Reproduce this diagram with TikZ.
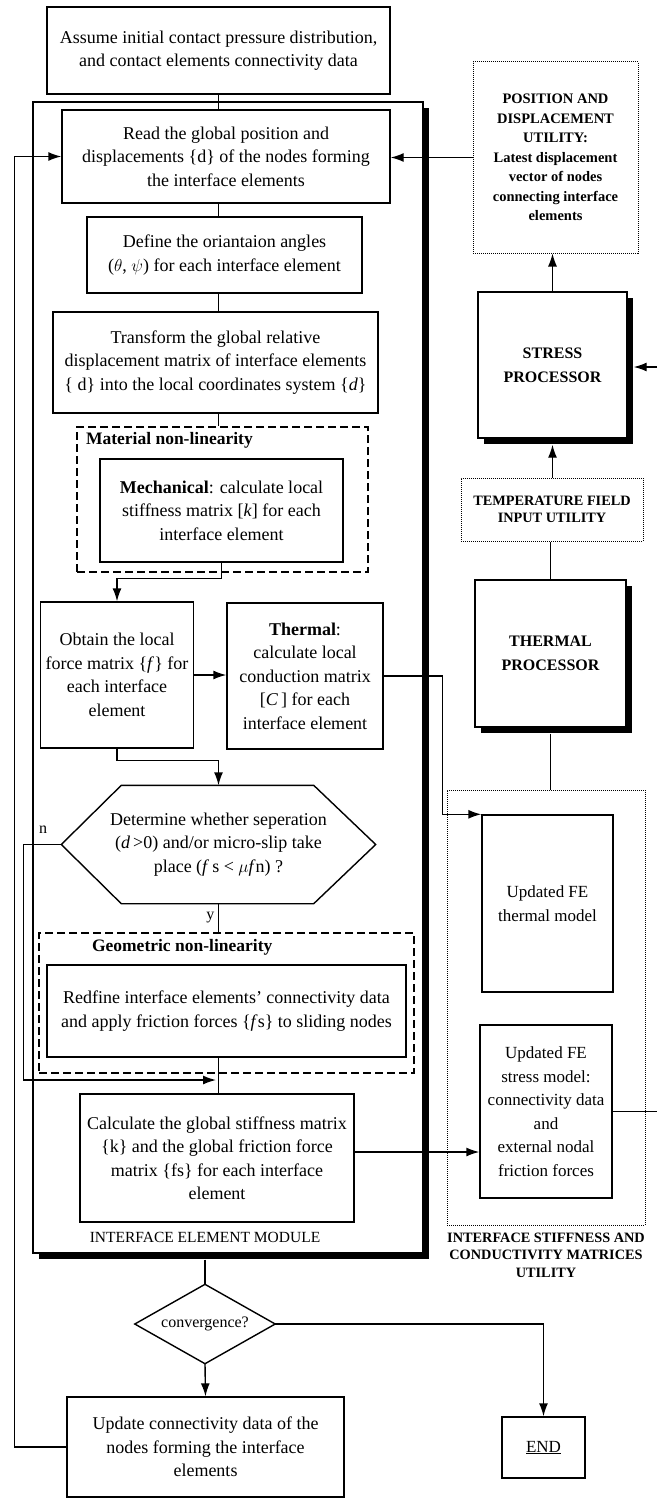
\documentclass[tikz,border=0pt]{standalone}
\usepackage{fontspec}
\setmainfont{Liberation Serif}
\usetikzlibrary{arrows.meta,positioning,shadows}

\newcommand{\boxfont}{\fontsize{18}{23.5}\selectfont}
\newcommand{\capfont}{\fontsize{14.3}{17.5}\selectfont\bfseries}

\tikzset{
  blk/.style={draw, fill=white, align=center, inner sep=2pt, font=\boxfont},
  procbox/.style={blk, font=\fontsize{16}{24}\selectfont\bfseries, drop shadow={shadow xshift=6pt, shadow yshift=-6pt, fill=black, opacity=1}},
  utilbox/.style={draw, line width=1pt, dash pattern=on 1pt off 1pt, fill=white, align=center, font=\capfont},
  groupbox/.style={draw, dash pattern=on 8pt off 4pt},
  grouplbl/.style={anchor=west, font=\fontsize{17.5}{20}\selectfont\bfseries},
  arr/.style={-{Latex[length=13pt,width=9pt]}},
}

\begin{document}
\begin{tikzpicture}[x=1pt, y=-1pt, line width=1.4pt]
\useasboundingbox (0,0) rectangle (657,1498);

\node[blk, minimum width=390pt, minimum height=1151pt, drop shadow={shadow xshift=6pt, shadow yshift=-6pt, fill=black, opacity=1}] (module) at (228,677.5) {};
\node[font=\fontsize{15.5}{18}\selectfont] (modlbl) at (205,1237) {INTERFACE ELEMENT MODULE};

\node[blk, minimum width=343pt, minimum height=87pt] (assume) at (218.5,50.5) {Assume initial contact pressure distribution,\\ and contact elements connectivity data};
\node[blk, minimum width=328pt, minimum height=93pt] (read) at (226,156.5) {Read the global position and\\ displacements \{d\} of the nodes forming\\ the interface elements};
\node[blk, minimum width=275pt, minimum height=76pt] (define) at (224.5,255) {Define the oriantaion angles\\ ($\theta$, $\psi$) for each interface element};
\node[blk, minimum width=325pt, minimum height=101pt] (trans) at (215.5,362.5) {Transform the global relative\\ displacement matrix of interface elements\\ \{ d\} into the local coordinates system \{\textit{d}\}};

\node[groupbox, minimum width=291pt, minimum height=145pt] (matdash) at (222.5,499.5) {};
\node[grouplbl] (matlbl) at (82,440) {Material non-linearity};
\node[blk, minimum width=243pt, minimum height=103pt] (mech) at (221.5,510.5) {\textbf{Mechanical}: calculate local\\ stiffness matrix [\textit{k}] for each\\ interface element};

\node[blk, minimum width=153pt, minimum height=146pt] (obtain) at (117,675) {Obtain the local\\ force matrix \{\textit{f}\} for\\ each interface\\ element};
\node[blk, minimum width=156pt, minimum height=146pt] (thermal) at (305,676) {\textbf{Thermal}:\\ calculate local\\ conduction matrix\\ {[}\textit{C}\,] for each\\ interface element};

\node[align=center, font=\boxfont, minimum width=313pt, minimum height=117pt] (det) at (218.5,844.5) {Determine whether seperation\\ (\textit{d}\,>0) and/or micro-slip take\\ place (\textit{f}\,s < $\mu$\textit{f}n) ?};
\draw (det.west) -- ([xshift=60pt]det.north west) -- ([xshift=-62pt]det.north east) -- (det.east) -- ([xshift=-62pt]det.south east) -- ([xshift=60pt]det.south west) -- cycle;
\node[font=\fontsize{16}{18}\selectfont] (nlbl) at (43,830) {n};

\node[groupbox, minimum width=375pt, minimum height=140pt] (geomdash) at (226.5,1003) {};
\node[grouplbl] (geomlbl) at (88,947) {Geometric non-linearity};
\node[blk, minimum width=359pt, minimum height=92pt] (redefine) at (226.5,1011) {Redfine interface elements' connectivity data\\ and apply friction forces \{\textit{f}s\} to sliding nodes};

\node[blk, minimum width=274pt, minimum height=128pt] (calc) at (217,1158) {Calculate the global stiffness matrix\\ \{k\} and the global friction force\\ matrix \{fs\} for each interface\\ element};

\node[align=center, font=\fontsize{16}{20}\selectfont, minimum width=139pt, minimum height=78pt] (conv) at (205,1324) {convergence?};
\draw (conv.west) -- (conv.north) -- (conv.east) -- (conv.south) -- cycle;

\node[blk, minimum width=277pt, minimum height=100pt] (update) at (205.5,1447) {Update connectivity data of the\\ nodes forming the interface\\ elements};
\node[blk, font=\fontsize{17}{20}\selectfont, minimum width=83pt, minimum height=61pt] (endbox) at (543.5,1447.5) {\underline{END}};

% right column
\node[utilbox, font=\fontsize{14.5}{19.5}\selectfont\bfseries, minimum width=165pt, minimum height=191pt] (posutil) at (555.5,157.5) {POSITION AND\\ DISPLACEMENT\\ UTILITY:\\ Latest displacement\\ vector of nodes\\ connecting interface\\ elements};
\node[procbox, minimum width=149pt, minimum height=146pt] (stressproc) at (552.5,365) {STRESS\\ PROCESSOR};
\node[utilbox, minimum width=182pt, minimum height=63pt] (tempin) at (552,509.5) {TEMPERATURE FIELD\\ INPUT UTILITY};
\node[procbox, minimum width=151pt, minimum height=147pt] (thermproc) at (550.5,653.5) {THERMAL\\ PROCESSOR};

\node[utilbox, minimum width=198pt, minimum height=435pt] (stiffutil) at (546,1007.5) {};
\node[font=\capfont, align=center, below=3pt of stiffutil] (stifflbl) {INTERFACE STIFFNESS AND\\ CONDUCTIVITY MATRICES\\ UTILITY};
\node[blk, font=\fontsize{17}{23.5}\selectfont, minimum width=131pt, minimum height=177pt] (femtherm) at (547.5,903.5) {Updated FE\\ thermal model};
\node[blk, font=\fontsize{17}{23.5}\selectfont, minimum width=132pt, minimum height=173pt] (femstress) at (546,1111.5) {Updated FE\\ stress model:\\ connectivity data\\ and\\ external nodal\\ friction forces};

\coordinate (stressin) at (657,367);
\coordinate (stressout) at (657,1113);
\coordinate (nin) at (216,1080);

% main chain
\draw (assume.south) -- (assume.south |- read.north);
\draw (read.south -| assume.south) -- (assume.south |- define.north);
\draw (define.south -| assume.south) -- (assume.south |- trans.north);
\draw (trans.south -| assume.south) -- (assume.south |- matdash.north);
\draw[arr] (mech.south) -- ++(0,16) -| (obtain.north);
\draw[arr] (obtain.east) -- (obtain.east -| thermal.west);
\draw[arr] (thermal.east) -- ++(59,0) |- (femtherm.north west);
\draw[arr] (obtain.south) -- ++(0,12) -| (det.north);
\draw[arr] (det.west) -- ++(-38,0) |- (nin);
\draw (det.south) -- (det.south |- geomdash.north) node[midway, left, font=\fontsize{16}{18}\selectfont] {y};
\draw (redefine.south -| det.south) -- (det.south |- calc.north);
\draw[arr] ([yshift=6pt]calc.east) -- ([yshift=6pt]calc.east -| femstress.west);
\draw (femstress.east) -- (femstress.east -| stressout);
\draw ([yshift=-6pt]module.south -| conv.north) -- (conv.north);
\draw[arr] (conv.east) -| (endbox.north);
\draw[arr] (conv.south) -- (update.north);
\draw[arr] (update.west) -- ++(-52,0) |- (read.west);

% utilities
\draw (thermproc.north) -- (thermproc.north |- tempin.south);
\draw[arr, shorten >=6pt] (tempin.north -| stressproc.south) -- (stressproc.south);
\draw[arr] (stressproc.north) -- (stressproc.north |- posutil.south);
\draw[arr] (posutil.west) -- (posutil.west -| read.east);
\draw[arr, shorten >=6pt] (stressin) -- (stressin -| stressproc.east);
\draw ([yshift=-6pt]thermproc.south) -- (thermproc.south |- stiffutil.north);

\end{tikzpicture}
\end{document}
